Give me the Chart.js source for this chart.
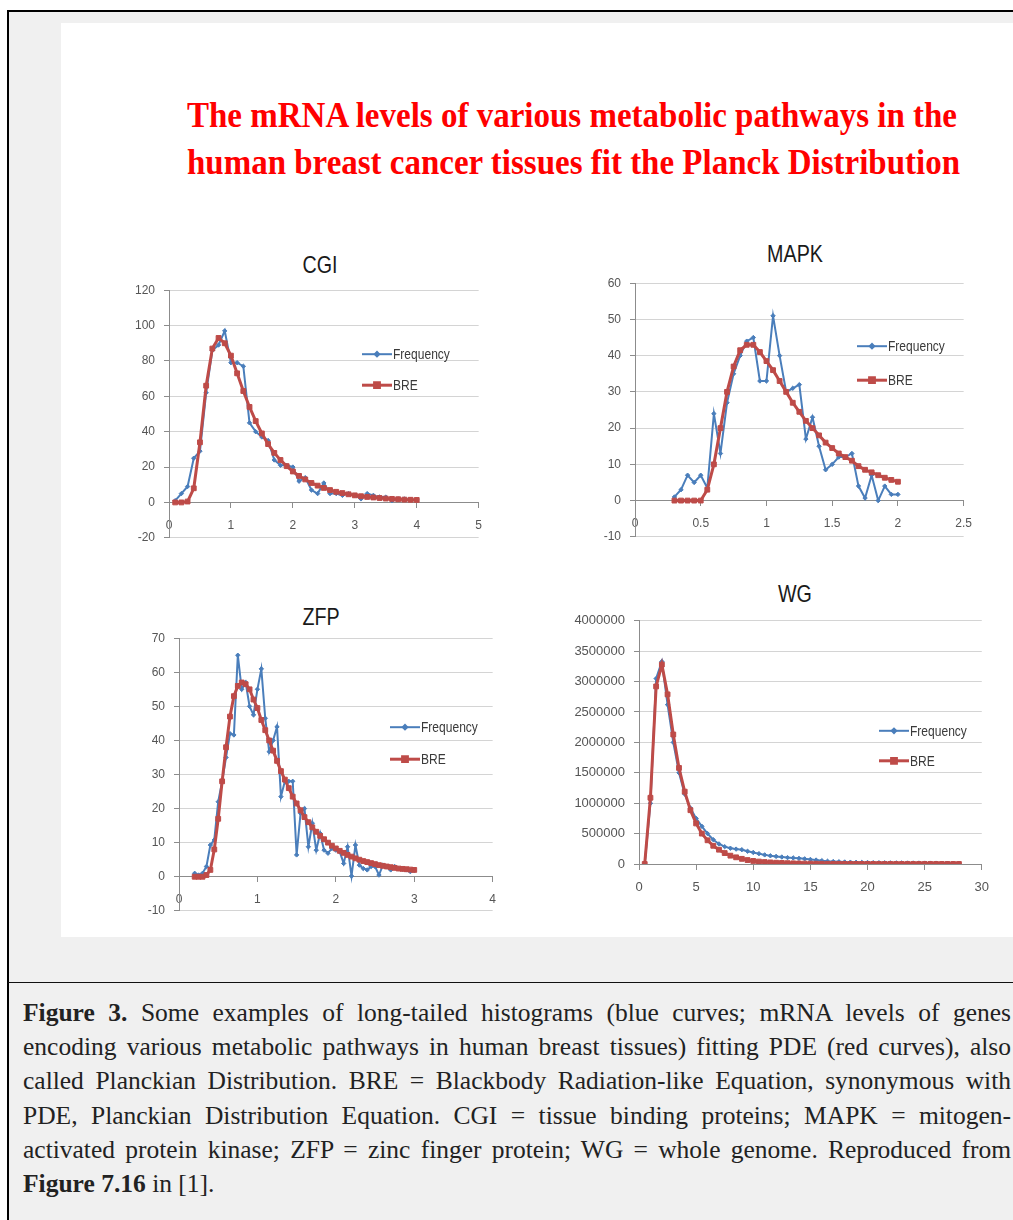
<!DOCTYPE html>
<html>
<head>
<meta charset="utf-8">
<title>mRNA levels - Planck Distribution</title>
<script src="https://cdn.jsdelivr.net/npm/chart.js@4.4.0/dist/chart.umd.min.js"></script>
<style>
  html, body { margin: 0; padding: 0; background: #fff; }
  body { width: 1013px; height: 1220px; position: relative; overflow: hidden; }
  #frame { position: absolute; left: 7px; top: 10px; width: 1100px; height: 1300px;
           border-left: 2px solid #000; border-top: 2px solid #000; background: #f0f0f0; }
  #panel { position: absolute; left: 61px; top: 23px; width: 1000px; height: 914px; background: #fff; }
  #sep { position: absolute; left: 8px; top: 982px; width: 1010px; height: 1px; background: #111; }
  .ttl { position: absolute; left: 187px; white-space: nowrap; transform-origin: 0 0;
         font: bold 36px/36px 'Liberation Serif', 'Times New Roman', serif; color: #ff0000; }
  .sub { position: absolute; width: 200px; text-align: center; transform: scaleX(0.82);
         font: 24px/24px 'Liberation Sans', sans-serif; color: #1a1a1a; }
  .box { position: absolute; }
  #caption { position: absolute; left: 23px; top: 996px; width: 988px;
             font-family: 'Liberation Serif', 'Times New Roman', serif; font-size: 24px;
             line-height: 34.2px; color: #222; }
  #caption div { text-align: justify; text-align-last: justify; }
  #caption div.last { text-align-last: left; }
</style>
</head>
<body>
<div id="frame"></div>
<div id="panel"></div>
<div id="sep"></div>

<div class="ttl" data-w="770" style="top:97px">The mRNA levels of various metabolic pathways in the</div>
<div class="ttl" data-w="773" style="top:144px">human breast cancer tissues fit the Planck Distribution</div>

<div class="sub" style="left:220px; top:253px">CGI</div>
<div class="sub" style="left:695px; top:242px">MAPK</div>
<div class="sub" style="left:221px; top:605px">ZFP</div>
<div class="sub" style="left:695px; top:582px">WG</div>

<div class="box" id="boxCGI"><canvas id="cgi"></canvas></div>
<div class="box" id="boxMAPK"><canvas id="mapk"></canvas></div>
<div class="box" id="boxZFP"><canvas id="zfp"></canvas></div>
<div class="box" id="boxWG"><canvas id="wg"></canvas></div>

<div id="caption">
  <div><span><b>Figure 3.</b> Some examples of long-tailed histograms (blue curves; mRNA levels of genes</span></div>
  <div><span>encoding various metabolic pathways in human breast tissues) fitting PDE (red curves), also</span></div>
  <div><span>called Planckian Distribution. BRE = Blackbody Radiation-like Equation, synonymous with</span></div>
  <div><span>PDE, Planckian Distribution Equation. CGI = tissue binding proteins; MAPK = mitogen-</span></div>
  <div><span>activated protein kinase; ZFP = zinc finger protein; WG = whole genome. Reproduced from</span></div>
  <div class="last"><span><b>Figure 7.16</b> in [1].</span></div>
</div>

<script>
// CGI
const cgiX = [0.1, 0.2, 0.3, 0.4, 0.5, 0.6, 0.7, 0.8, 0.9, 1.0,
              1.1, 1.2, 1.3, 1.4, 1.5, 1.6, 1.7, 1.8, 1.9, 2.0,
              2.1, 2.2, 2.3, 2.4, 2.5, 2.6, 2.7, 2.8, 2.9, 3.0,
              3.1, 3.2, 3.3, 3.4, 3.5, 3.6, 3.7, 3.8, 3.9, 4.0];
const cgiFreq = [1, 5, 9, 25, 29, 62, 86, 89, 97, 79,
                 79, 77, 45, 40, 37, 35, 24, 21, 21, 20,
                 12, 14, 7, 5, 11, 5, 5, 4, 5, 4,
                 2, 5, 4, 3, 3, 1, 2, 2, 1.5, 1.5];
const cgiBre = [0, 0, 0.5, 8, 34, 66, 87, 93, 90, 83,
                73, 63, 54, 46, 39, 33, 28, 24, 20.5, 17.5,
                15, 13, 11, 9.5, 8.2, 7, 6, 5.3, 4.6, 4,
                3.5, 3.1, 2.8, 2.5, 2.2, 2, 1.8, 1.6, 1.5, 1.4];

// MAPK
const mapkX = [0.3, 0.35, 0.4, 0.45, 0.5, 0.55, 0.6, 0.65, 0.7, 0.75,
               0.8, 0.85, 0.9, 0.95, 1.0, 1.05, 1.1, 1.15, 1.2, 1.25,
               1.3, 1.35, 1.4, 1.45, 1.5, 1.55, 1.6, 1.65, 1.7, 1.75,
               1.8, 1.85, 1.9, 1.95, 2.0];
const mapkFreq = [1, 3, 7, 5, 7, 3.5, 24, 13, 27, 35,
                  40, 44, 45, 33, 33, 51, 40, 30, 31, 32,
                  17, 23, 15, 8.5, 10, 12, 12, 13, 4, 0.7,
                  7, 0, 4, 1.7, 1.7];
const mapkBre = [0, 0, 0, 0, 0, 3, 10, 20, 30, 37,
                 41.5, 43, 43, 41, 38.5, 36, 33, 30, 27, 24.5,
                 22, 20, 18, 16, 14.5, 13, 12, 11, 9.5, 8.5,
                 7.8, 7, 6.3, 5.7, 5.2];

// ZFP
const zfpX = [0.2, 0.25, 0.3, 0.35, 0.4, 0.45, 0.5, 0.55, 0.6, 0.65,
              0.7, 0.75, 0.8, 0.85, 0.9, 0.95, 1.0, 1.05, 1.1, 1.15,
              1.2, 1.25, 1.3, 1.35, 1.4, 1.45, 1.5, 1.55, 1.6, 1.65,
              1.7, 1.75, 1.8, 1.85, 1.9, 1.95, 2.0, 2.05, 2.1, 2.15,
              2.2, 2.25, 2.3, 2.35, 2.4, 2.45, 2.5, 2.55, 2.6, 2.65,
              2.7, 2.75, 2.8, 2.85, 2.9, 2.95, 3.0];
const zfpFreq = [1, 0.5, 1, 3, 9.3, 10.8, 22, 28, 35, 42,
                 41.6, 65, 55, 57, 50, 47.5, 55, 61, 46.5, 36.7,
                 40, 44, 23.5, 28, 28, 28, 6.4, 18.6, 20, 8.8,
                 15.7, 7.8, 12.7, 7.8, 6.9, 8.3, 7.8, 7.3, 3.9, 8.8,
                 0.2, 9.3, 3.4, 2.4, 2, 3, 3, 0.5, 3.4, 3,
                 2, 3, 2.4, 2.2, 2, 1.5, 1.8];
const zfpBre = [0, 0, 0, 0.5, 2, 8, 17, 28, 38, 47,
                53, 56, 57, 56.5, 55, 52, 49.5, 46, 43, 40,
                37, 34, 31, 28.5, 26, 23.5, 21.5, 19.5, 17.5, 16,
                14.5, 13.2, 12, 11, 10, 9.1, 8.3, 7.6, 7, 6.4,
                5.9, 5.4, 5, 4.6, 4.3, 4, 3.7, 3.4, 3.2, 3,
                2.8, 2.6, 2.4, 2.3, 2.2, 2.1, 2];

// WG
const wgX = [0.5, 1, 1.5, 2, 2.5, 3, 3.5, 4, 4.5, 5,
             5.5, 6, 6.5, 7, 7.5, 8, 8.5, 9, 9.5, 10,
             10.5, 11, 11.5, 12, 12.5, 13, 13.5, 14, 14.5, 15,
             15.5, 16, 16.5, 17, 17.5, 18, 18.5, 19, 19.5, 20,
             20.5, 21, 21.5, 22, 22.5, 23, 23.5, 24, 24.5, 25,
             25.5, 26, 26.5, 27, 27.5, 28];
const wgFreq = [0, 1000000, 3050000, 3330000, 2620000, 2000000, 1500000, 1150000, 920000, 750000,
                620000, 500000, 400000, 330000, 285000, 260000, 245000, 235000, 210000, 190000,
                170000, 150000, 135000, 125000, 115000, 105000, 100000, 93000, 85000, 75000,
                65000, 55000, 45000, 40000, 36000, 33000, 30000, 28000, 26000, 24000,
                22000, 21000, 20000, 19000, 18000, 17000, 16500, 16000, 15500, 15000,
                14500, 14000, 13000, 12500, 12000, 11000];
const wgBre = [0, 1090000, 2920000, 3280000, 2790000, 2130000, 1580000, 1190000, 885000, 667000,
               500000, 390000, 300000, 235000, 180000, 137000, 110000, 85000, 65000, 50000,
               40000, 32000, 26000, 21000, 17000, 13500, 11000, 9000, 7200, 5800,
               4700, 3800, 3100, 2500, 2000, 1600, 1300, 1050, 850, 700,
               560, 450, 370, 300, 240, 190, 155, 125, 100, 80,
               65, 52, 42, 34, 27, 22];

const BLUE = '#4a7ebb';
const RED = '#be4b48';
const AXIS = '#8c8c8c';
const GRID = '#d4d4d4';
const SANS = "'Liberation Sans', Arial, sans-serif";

function toPoints(xs, ys) {
  return xs.map((x, i) => ({ x: x, y: ys[i] }));
}

// legend drawn inside the plot, like the Excel original (text squeezed to look narrow)
const innerLegend = {
  id: 'innerLegend',
  afterDraw(chart, args, opts) {
    const ctx = chart.ctx;
    chart.data.datasets.forEach((ds, i) => {
      const x = opts.x;
      const y = opts.y + i * opts.gap;
      ctx.save();
      ctx.strokeStyle = ds.borderColor;
      ctx.lineWidth = ds.borderWidth;
      ctx.beginPath();
      ctx.moveTo(x, y);
      ctx.lineTo(x + 30, y);
      ctx.stroke();
      ctx.fillStyle = ds.pointBackgroundColor;
      Chart.helpers.drawPoint(ctx, { pointStyle: ds.pointStyle, radius: ds.pointRadius, rotation: 0, borderWidth: 1 }, x + 15, y);
      ctx.translate(x + 31, y + 1);
      ctx.scale(0.86, 1);
      ctx.fillStyle = '#3a3a3a';
      ctx.font = '14px ' + SANS;
      ctx.textBaseline = 'middle';
      ctx.textAlign = 'left';
      ctx.fillText(ds.label, 0, 0);
      ctx.restore();
    });
  }
};

function chartConfig(c, padT, padR, padB, legX, legY) {
  const tickFont = { family: SANS, size: c.fontSize };
  return {
    type: 'scatter',
    data: {
      datasets: [{
        label: 'Frequency',
        data: toPoints(c.xs, c.freq),
        showLine: true,
        borderColor: BLUE,
        backgroundColor: BLUE,
        pointBackgroundColor: BLUE,
        borderWidth: 2,
        pointStyle: 'rectRot',
        pointRadius: 2.2,
        pointBorderWidth: 1,
        tension: 0,
        order: 2
      }, {
        label: 'BRE',
        data: toPoints(c.xs, c.bre),
        showLine: true,
        borderColor: RED,
        backgroundColor: RED,
        pointBackgroundColor: RED,
        borderWidth: 3,
        pointStyle: 'rect',
        pointRadius: 3.4,
        pointBorderWidth: 1,
        tension: 0,
        order: 1
      }]
    },
    options: {
      responsive: false,
      animation: false,
      events: [],
      layout: { padding: { left: 0, right: padR, top: padT, bottom: padB } },
      plugins: {
        legend: { display: false },
        tooltip: { enabled: false },
        innerLegend: { x: legX, y: legY, gap: c.legGap }
      },
      scales: {
        x: {
          type: 'linear',
          position: { y: 0 },
          min: c.xMin, max: c.xMax,
          afterFit: s => { s.height = 0; },
          ticks: { stepSize: c.xStep, autoSkip: false, maxRotation: 0, padding: 11,
                   color: '#555', font: tickFont, callback: v => String(v) },
          grid: { drawOnChartArea: false, drawTicks: true, tickLength: 5, color: AXIS },
          border: { color: AXIS, width: 1 }
        },
        y: {
          type: 'linear',
          min: c.yMin, max: c.yMax,
          afterFit: s => { s.width = c.axisW; },
          ticks: { stepSize: c.yStep, autoSkip: false, padding: 9,
                   color: '#555', font: tickFont, callback: v => String(v) },
          grid: { color: GRID, tickColor: AXIS, tickLength: 5, lineWidth: 1 },
          border: { color: AXIS, width: 1 }
        }
      }
    },
    plugins: [innerLegend]
  };
}

// build once, see where Chart.js put the plot area, then rebuild so it lands on the target box
function makeChart(c) {
  const padT = 12, padR = 14;
  const box = document.getElementById(c.box);
  const canvas = document.getElementById(c.id);

  let left = c.left - c.axisW, top = c.top - padT;
  let width = c.right - c.left + c.axisW + padR;
  let height = c.bottom - c.top + padT + c.padB;
  canvas.width = width; canvas.height = height;
  let chart = new Chart(canvas, chartConfig(c, padT, padR, c.padB, c.legX - left, c.legY - top));
  const ca = chart.chartArea;
  const extraL = ca.left, extraT = ca.top;
  const extraR = width - ca.right, extraB = height - ca.bottom;
  chart.destroy();

  left = c.left - extraL; top = c.top - extraT;
  width = extraL + (c.right - c.left) + extraR;
  height = extraT + (c.bottom - c.top) + extraB;
  box.style.left = left + 'px';
  box.style.top = top + 'px';
  canvas.width = width; canvas.height = height;
  chart = new Chart(canvas, chartConfig(c, padT, padR, c.padB, c.legX - left, c.legY - top));
  return chart;
}

makeChart({ id: 'cgi', box: 'boxCGI', left: 169, right: 479, top: 290, bottom: 538, axisW: 45, padB: 10, fontSize: 12,
            xMin: 0, xMax: 5, xStep: 1, yMin: -20, yMax: 120, yStep: 20,
            xs: cgiX, freq: cgiFreq, bre: cgiBre, legX: 362, legY: 354, legGap: 31 });
makeChart({ id: 'mapk', box: 'boxMAPK', left: 635, right: 964, top: 283, bottom: 537, axisW: 45, padB: 10, fontSize: 12,
            xMin: 0, xMax: 2.5, xStep: 0.5, yMin: -10, yMax: 60, yStep: 10,
            xs: mapkX, freq: mapkFreq, bre: mapkBre, legX: 857, legY: 346, legGap: 34 });
makeChart({ id: 'zfp', box: 'boxZFP', left: 179, right: 493, top: 638, bottom: 911, axisW: 45, padB: 10, fontSize: 12,
            xMin: 0, xMax: 4, xStep: 1, yMin: -10, yMax: 70, yStep: 10,
            xs: zfpX, freq: zfpFreq, bre: zfpBre, legX: 390, legY: 727, legGap: 32 });
makeChart({ id: 'wg', box: 'boxWG', left: 639, right: 982, top: 621, bottom: 865, axisW: 70, padB: 36, fontSize: 13,
            xMin: 0, xMax: 30, xStep: 5, yMin: 0, yMax: 4000000, yStep: 500000,
            xs: wgX, freq: wgFreq, bre: wgBre, legX: 879, legY: 731, legGap: 30 });

// squeeze the condensed red headline to its measured width
document.querySelectorAll('.ttl').forEach(el => {
  const w = el.getBoundingClientRect().width;
  el.style.transform = 'scaleX(' + (el.dataset.w / w) + ')';
});

// pick the largest caption size at which every line still fits on its own row
(function fitCaption() {
  const cap = document.getElementById('caption');
  const rows = Array.from(cap.querySelectorAll('div'));
  rows.forEach(r => { r.style.textAlignLast = 'left'; r.style.whiteSpace = 'nowrap'; });
  let maxW = 0;
  rows.forEach(r => { maxW = Math.max(maxW, r.querySelector('span').getBoundingClientRect().width); });
  const size = Math.min(25.5, 24 * 982 / maxW);
  cap.style.fontSize = size.toFixed(2) + 'px';
  rows.forEach(r => { r.style.textAlignLast = ''; r.style.whiteSpace = ''; });
})();
</script>
</body>
</html>
